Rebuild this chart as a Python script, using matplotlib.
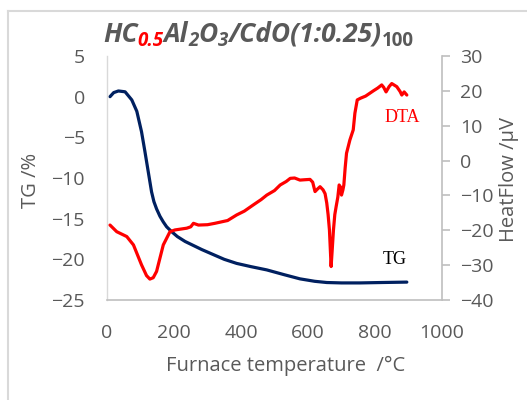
import matplotlib
matplotlib.use('Agg')
import matplotlib.pyplot as plt
from matplotlib.lines import Line2D

# ---- data ----
temp_tg = [9, 20, 34, 54, 74, 89, 103, 113, 123, 133, 140, 148, 158, 168, 178, 193, 210, 233, 283, 322,
           350, 387, 430, 477, 530, 576, 620, 656, 700, 755, 820, 895]
tg = [0.0, 0.5, 0.7, 0.6, -0.4, -1.8, -4.3, -6.7, -9.2, -11.7, -12.9, -13.8, -14.7, -15.4, -16.0, -16.6,
      -17.2, -17.8, -18.8, -19.5, -20.0, -20.5, -20.9, -21.3, -21.9, -22.4, -22.7, -22.85, -22.9, -22.9,
      -22.85, -22.8]

temp_dta = [9, 29, 59, 79, 103, 118, 128, 138, 148, 168, 188, 203, 238, 250, 258, 273, 300, 322,
            360, 387, 410, 437, 460, 477, 500, 517, 535, 547, 560, 576, 590, 606, 614, 621,
            628, 636, 645, 651, 656, 660, 664, 669, 672, 676, 680, 684, 689, 693, 697, 700, 704, 707,
            711, 715, 725, 735, 740, 747, 757, 772, 795, 808, 820, 826, 833, 842, 850, 865, 875,
            880, 887, 895]
dta = [-18.5, -20.4, -21.8, -24.2, -29.9, -33.0, -34.0, -33.6, -31.8, -24.2, -20.4, -19.9, -19.4, -19.0,
       -18.0, -18.5, -18.4, -18.0, -17.2, -15.6, -14.5, -12.7, -11.2, -9.9, -8.6,
       -7.0, -6.0, -5.1, -5.0, -5.6, -5.5, -5.4, -6.2, -8.9, -8.2, -7.5, -8.4, -9.5, -12.2, -15.5,
       -19.9, -30.4, -26.0, -19.9, -15.5, -13.2, -10.5, -7.0, -7.6, -9.9, -8.5, -7.0,
       -2.0, 2.1, 5.9, 8.8, 13.6, 17.4, 17.9, 18.5, 20.0, 20.8, 21.7, 21.0, 19.7, 21.2, 22.1, 21.2, 19.8,
       18.8, 19.7, 18.8]

x_ticks = [0, 200, 400, 600, 800, 1000]
tg_ticks = [5, 0, -5, -10, -15, -20, -25]
dta_ticks = [30, 20, 10, 0, -10, -20, -30, -40]

title_parts = [("HC", "main"), ("0.5", "redsub"), ("Al", "main"), ("2", "sub"), ("O", "main"),
               ("3", "sub"), ("/CdO(1:0.25)", "main"), ("100", "sub100")]

GRAY = '#595959'
NAVY = '#002060'
FONT = 'Open Sans'

fig = plt.figure(figsize=(5.27, 4.0), dpi=100)
W, H = 527, 400

# figure frame (partial border as in reference)
fig.add_artist(Line2D([8 / W, 8 / W], [0, 1 - 11 / H], color='#d9d9d9', lw=1.5, transform=fig.transFigure))
fig.add_artist(Line2D([8 / W, 1], [1 - 11 / H, 1 - 11 / H], color='#d9d9d9', lw=1.5, transform=fig.transFigure))

left, right, bottom, top = 107, 442, 300, 56
ax = fig.add_axes([left / W, 1 - bottom / H, (right - left) / W, (bottom - top) / H])
ax2 = ax.twinx()

ax.plot(temp_tg, tg, color=NAVY, lw=2.3, solid_capstyle='round', solid_joinstyle='round', zorder=2)
ax2.plot(temp_dta, dta, color='#ff0000', lw=2.3, solid_capstyle='round', solid_joinstyle='round', zorder=3)

ax.set_xlim(0, 1000)
ax.set_ylim(-25, 5)
ax2.set_ylim(-40, 30)
ax.set_xticks(x_ticks)
ax.set_yticks(tg_ticks)
ax2.set_yticks(dta_ticks)

for a in (ax, ax2):
    a.patch.set_visible(False)
    a.spines['top'].set_visible(False)
ax.spines['right'].set_visible(False)
ax2.spines['left'].set_visible(False)
ax2.spines['bottom'].set_visible(False)
ax.spines['left'].set_color('#d9d9d9')
ax.spines['left'].set_linewidth(1.0)
ax.spines['bottom'].set_color('#bfbfbf')
ax.spines['bottom'].set_linewidth(1.2)
ax2.spines['right'].set_color('#bfbfbf')
ax2.spines['right'].set_linewidth(1.2)

ax.tick_params(axis='x', length=0, pad=17, labelsize=14, labelcolor=GRAY)
ax.tick_params(axis='y', length=0, pad=16, labelsize=14, labelcolor=GRAY)
ax2.tick_params(axis='y', length=6, width=1.2, color='#bfbfbf', direction='out', pad=7,
                labelsize=14, labelcolor=GRAY)
for lab in ax.get_xticklabels() + ax.get_yticklabels() + ax2.get_yticklabels():
    lab.set_fontfamily(FONT)

# axis titles
fig.text(286 / W, 1 - 366 / H, 'Furnace temperature  /°C', ha='center', va='center',
         fontsize=14.5, color=GRAY, family=FONT)
fig.text(31 / W, 1 - 180 / H, 'TG /%', ha='center', va='center', rotation=90,
         fontsize=14.5, color=GRAY, family=FONT)
fig.text(509 / W, 1 - 179 / H, 'HeatFlow /µV', ha='center', va='center', rotation=90,
         fontsize=14.5, color=GRAY, family=FONT)

# series labels
fig.text(402 / W, 1 - 118 / H, 'DTA', ha='center', va='center', fontsize=13,
         color='#ff0000', family='Liberation Serif')
fig.text(395 / W, 1 - 260 / H, 'TG', ha='center', va='center', fontsize=13,
         color='black', family='Liberation Serif')

# title built from pieces
renderer = fig.canvas.get_renderer()
x = 103
base = 41.5
styles = {
    'main': dict(fontsize=19, color=GRAY, fontweight='bold', fontstyle='italic', dy=0),
    'redsub': dict(fontsize=13.5, color='#ff0000', fontweight='bold', fontstyle='italic', dy=4),
    'sub': dict(fontsize=13.5, color=GRAY, fontweight='bold', fontstyle='italic', dy=4),
    'sub100': dict(fontsize=13.5, color=GRAY, fontweight='bold', fontstyle='normal', dy=5),
}
for txt, st in title_parts:
    s = dict(styles[st])
    dy = s.pop('dy')
    t = fig.text(x / W, 1 - (base + dy) / H, txt, ha='left', va='baseline', family=FONT, **s)
    bb = t.get_window_extent(renderer=renderer)
    x += bb.width

fig.savefig('out.png', dpi=100)
